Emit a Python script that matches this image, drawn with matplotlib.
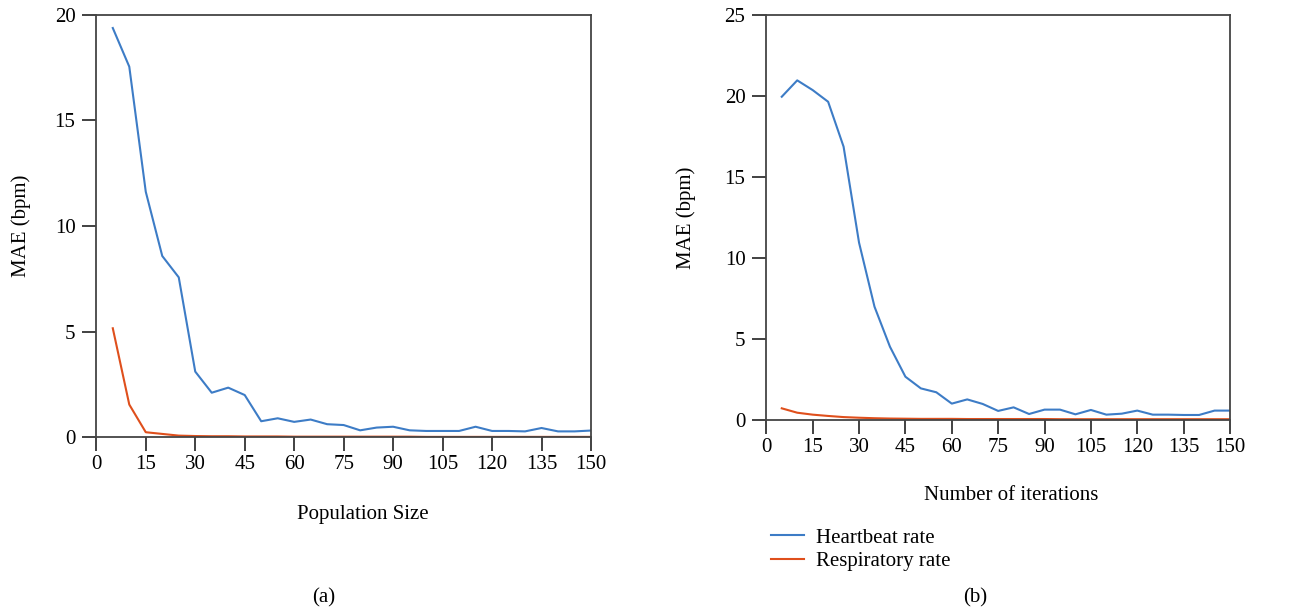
import matplotlib
matplotlib.use("Agg")
import matplotlib.pyplot as plt

x_pop = [5, 10, 15, 20, 25, 30, 35, 40, 45, 50, 55, 60, 65, 70, 75, 80, 85, 90, 95, 100,
         105, 110, 115, 120, 125, 130, 135, 140, 145, 150]
hr_pop = [19.37, 17.54, 11.62, 8.58, 7.57, 3.11, 2.11, 2.35, 2.0, 0.76, 0.90, 0.73, 0.84, 0.62, 0.58,
          0.33, 0.46, 0.50, 0.33, 0.30, 0.30, 0.30, 0.50, 0.30, 0.30, 0.28, 0.44, 0.28, 0.28, 0.32]
rr_pop = [5.16, 1.55, 0.24, 0.16, 0.08, 0.06, 0.05, 0.05, 0.04, 0.04, 0.04, 0.03, 0.03, 0.03, 0.03,
          0.03, 0.03, 0.03, 0.03, 0.02, 0.02, 0.02, 0.02, 0.02, 0.02, 0.02, 0.02, 0.02, 0.02, 0.02]

x_iter = x_pop
hr_iter = [19.94, 20.95, 20.35, 19.63, 16.86, 10.94, 6.99, 4.52, 2.67, 1.95, 1.71, 1.01, 1.27, 0.99, 0.56,
           0.78, 0.37, 0.64, 0.64, 0.35, 0.62, 0.33, 0.39, 0.58, 0.33, 0.33, 0.31, 0.31, 0.58, 0.58]
rr_iter = [0.72, 0.45, 0.33, 0.25, 0.18, 0.14, 0.11, 0.09, 0.08, 0.07, 0.07, 0.07, 0.06, 0.06, 0.06,
           0.06, 0.06, 0.06, 0.05, 0.05, 0.05, 0.05, 0.05, 0.05, 0.05, 0.05, 0.05, 0.05, 0.05, 0.05]

xticks = list(range(0, 151, 15))
labels = ["Heartbeat rate", "Respiratory rate"]
BLUE = "#3d7cc6"
RED = "#df4f1c"
FS = 15

plt.rcParams['font.family'] = ['Liberation Serif', 'DejaVu Serif']
plt.rcParams['font.size'] = FS

fig = plt.figure(figsize=(13.03, 6.14), dpi=100)
W, H = 1303, 614

def px_axes(l, r, t, b):
    return fig.add_axes([l / W, 1 - b / H, (r - l) / W, (b - t) / H])

ax1 = px_axes(96.3, 591, 14.7, 437.3)
ax2 = px_axes(766.3, 1230, 14.7, 420)

for ax, x, hr, rr, ymax, yt in [(ax1, x_pop, hr_pop, rr_pop, 20, [0, 5, 10, 15, 20]),
                                 (ax2, x_iter, hr_iter, rr_iter, 25, [0, 5, 10, 15, 20, 25])]:
    ax.plot(x, hr, color=BLUE, lw=1.5, label=labels[0])
    ax.plot(x, rr, color=RED, lw=1.5, label=labels[1])
    ax.set_xlim(0, 150)
    ax.set_ylim(0, ymax)
    ax.set_xticks(xticks)
    ax.set_yticks(yt)
    ax.tick_params(direction='out', length=10, width=1.3, color='#333333', labelsize=FS, pad=3)
    ax.tick_params(axis='y', pad=5)
    for s in ax.spines.values():
        s.set_color('#444444')
        s.set_linewidth(1.3)
    ax.set_ylabel("MAE (bpm)", fontsize=FS)

ax1.set_xlabel("Population Size", fontsize=FS)
ax2.set_xlabel("Number of iterations", fontsize=FS)
ax1.xaxis.set_label_coords((363 - 96.3) / 494.7, -(505 - 437.3) / 422.6)
ax2.xaxis.set_label_coords((1011 - 766.3) / 463.7, -(486 - 420) / 405.3)
ax1.yaxis.set_label_coords((31 - 96.3) / 494.7, 0.5)
ax2.yaxis.set_label_coords((696 - 766.3) / 463.7, 0.5)

fig.legend(*ax2.get_legend_handles_labels(), loc='upper left',
           bbox_to_anchor=(771 / W, 1 - 528 / H), frameon=False, fontsize=FS,
           handlelength=1.6, handletextpad=0.55, labelspacing=0.2, borderpad=0, borderaxespad=0)

fig.text(324 / W, 1 - 598 / H, "(a)", ha='center', va='center', fontsize=FS)
fig.text(975 / W, 1 - 598 / H, "(b)", ha='center', va='center', fontsize=FS)

fig.savefig("out.png", dpi=100)
